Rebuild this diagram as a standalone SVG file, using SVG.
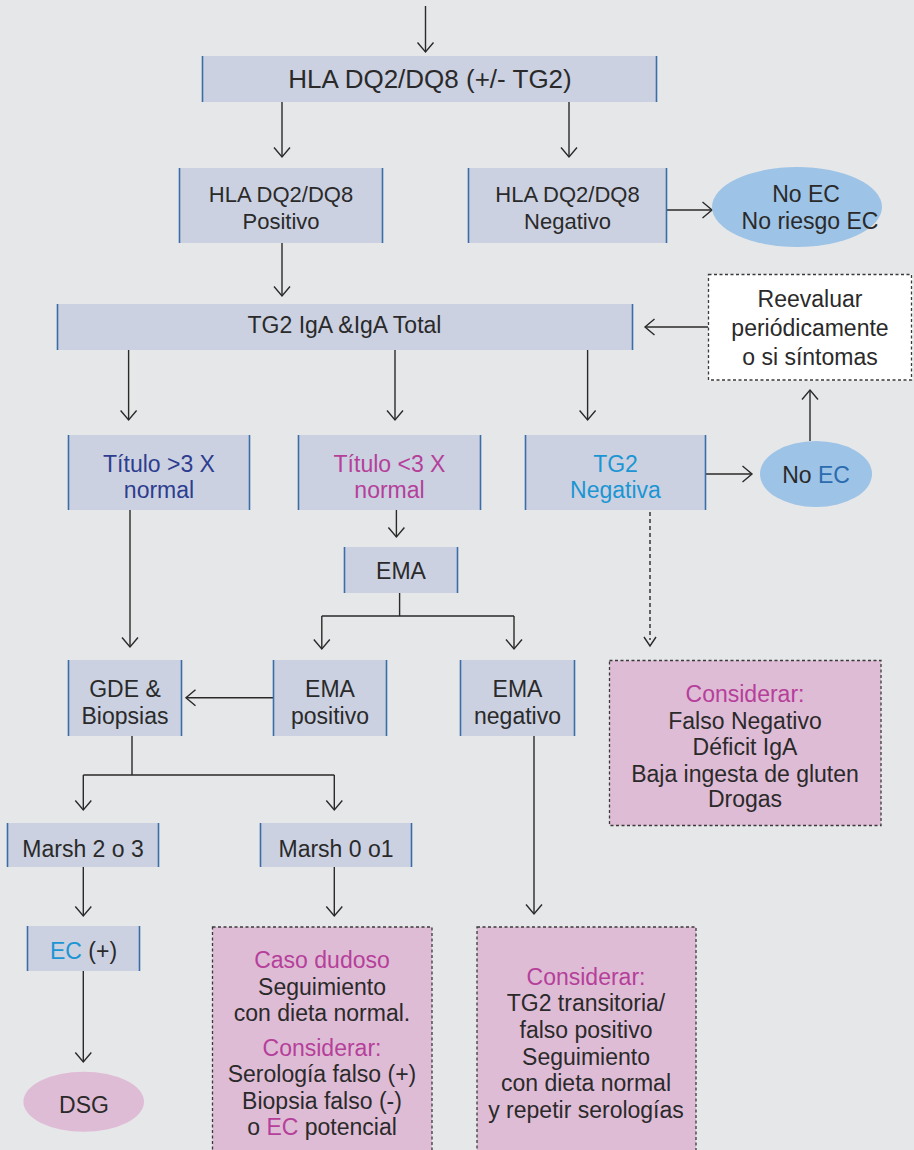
<svg xmlns="http://www.w3.org/2000/svg" width="914" height="1150" viewBox="0 0 914 1150">
<defs>
<style>
.bg{fill:#e6e7e9}
.box{fill:#cbd1e1}
.side{stroke:#3b6ea8;stroke-width:1.6;fill:none}
.pink{fill:#dfbcd6}
.dash{stroke:#3a3a3a;stroke-width:1.3;stroke-dasharray:3 2.5;fill:none}
.ell{fill:#9dc3e6}
.ln{stroke:#2a2a2a;stroke-width:1.4;fill:none}
.dl{stroke:#2a2a2a;stroke-width:1.4;fill:none;stroke-dasharray:4 3}
.arr{marker-end:url(#ah)}
text{font-family:"Liberation Sans",Arial,sans-serif;font-size:23px;fill:#2a2a2a;text-anchor:middle}
.t1{font-size:22px}
.top{font-size:26px}
.navy{fill:#2e3d8f}
.mag{fill:#b5409a}
.lb{fill:#1b95d3}
.sb{fill:#2b6cb0}
</style>
<marker id="ah" markerUnits="userSpaceOnUse" markerWidth="20" markerHeight="20" refX="10" refY="10" orient="auto" viewBox="0 0 20 20">
<path d="M0.5,2 L10,10 L0.5,18" fill="none" stroke="#2a2a2a" stroke-width="1.4"/>
</marker>
</defs>
<rect class="bg" x="0" y="0" width="914" height="1150"/>

<g id="connectors">
<line class="ln arr" x1="425.5" y1="6" x2="425.5" y2="52"/>
<line class="ln arr" x1="282" y1="102" x2="282" y2="157"/>
<line class="ln arr" x1="569" y1="102" x2="569" y2="157"/>
<line class="ln arr" x1="667" y1="210" x2="712" y2="210"/>
<line class="ln arr" x1="282" y1="243" x2="282" y2="296"/>
<line class="ln arr" x1="708" y1="327" x2="645" y2="327"/>
<line class="ln arr" x1="128.6" y1="350" x2="128.6" y2="420"/>
<line class="ln arr" x1="395" y1="350" x2="395" y2="420"/>
<line class="ln arr" x1="587.6" y1="350" x2="587.6" y2="420"/>
<line class="ln arr" x1="706" y1="474" x2="752" y2="474"/>
<line class="ln arr" x1="810" y1="441" x2="810" y2="390"/>
<line class="ln arr" x1="130" y1="510" x2="130" y2="647"/>
<line class="ln arr" x1="396.4" y1="510" x2="396.4" y2="537"/>
<line class="dl" x1="650" y1="512" x2="650" y2="640"/>
<path class="ln" d="M644,637 L650,646 L656,637"/>
<path class="ln" d="M399.6,593 V616 M321.8,616 H514"/>
<line class="ln arr" x1="321.8" y1="616" x2="321.8" y2="649"/>
<line class="ln arr" x1="514" y1="616" x2="514" y2="649"/>
<line class="ln arr" x1="273" y1="697.7" x2="186" y2="697.7"/>
<path class="ln" d="M132,736 V775 M83.3,775 H334.3"/>
<line class="ln arr" x1="83.3" y1="775" x2="83.3" y2="810"/>
<line class="ln arr" x1="334.3" y1="775" x2="334.3" y2="810"/>
<line class="ln arr" x1="534" y1="736" x2="534" y2="914"/>
<line class="ln arr" x1="83.3" y1="867" x2="83.3" y2="916"/>
<line class="ln arr" x1="334.3" y1="867" x2="334.3" y2="916"/>
<line class="ln arr" x1="83.3" y1="971" x2="83.3" y2="1062"/>
</g>

<g id="hla">
<rect class="box" x="202" y="56" width="455" height="46"/>
<path class="side" d="M202.5,56 V102 M656.5,56 V102"/>
<text class="top" x="430" y="88">HLA DQ2/DQ8 (+/- TG2)</text>
</g>

<g id="hla-pos">
<rect class="box" x="179" y="168" width="204" height="75"/>
<path class="side" d="M179.5,168 V243 M382.5,168 V243"/>
<text class="t1" x="281" y="202">HLA DQ2/DQ8</text>
<text class="t1" x="281" y="229">Positivo</text>
</g>

<g id="hla-neg">
<rect class="box" x="468" y="168" width="199" height="75"/>
<path class="side" d="M468.5,168 V243 M666.5,168 V243"/>
<text class="t1" x="567.5" y="202">HLA DQ2/DQ8</text>
<text class="t1" x="567.5" y="229">Negativo</text>
</g>

<g id="no-ec-riesgo">
<ellipse class="ell" cx="797" cy="207" rx="85" ry="40"/>
<text x="806" y="202">No EC</text>
<text x="810" y="229">No riesgo EC</text>
</g>

<g id="tg2-iga">
<rect class="box" x="57" y="304" width="576" height="46"/>
<path class="side" d="M57.5,304 V350 M632.5,304 V350"/>
<text x="344.5" y="333">TG2 IgA &amp;IgA Total</text>
</g>

<g id="reevaluar">
<rect x="708.5" y="274.5" width="204" height="106" fill="#ffffff"/>
<rect class="dash" x="708.5" y="274.5" width="203" height="105.5"/>
<text x="810" y="307">Reevaluar</text>
<text x="810" y="336">periódicamente</text>
<text x="810" y="365">o si síntomas</text>
</g>

<g id="titulo-mayor">
<rect class="box" x="68" y="435" width="182" height="75"/>
<path class="side" d="M68.5,435 V510 M249.5,435 V510"/>
<text class="navy" x="159" y="472">Título &gt;3 X</text>
<text class="navy" x="159" y="497.5">normal</text>
</g>

<g id="titulo-menor">
<rect class="box" x="298" y="435" width="183" height="75"/>
<path class="side" d="M298.5,435 V510 M480.5,435 V510"/>
<text class="mag" x="389.5" y="472">Título &lt;3 X</text>
<text class="mag" x="389.5" y="497.5">normal</text>
</g>

<g id="tg2-negativa">
<rect class="box" x="525" y="435" width="181" height="75"/>
<path class="side" d="M525.5,435 V510 M705.5,435 V510"/>
<text class="lb" x="615.5" y="472">TG2</text>
<text class="lb" x="615.5" y="497.5">Negativa</text>
</g>

<g id="no-ec">
<ellipse class="ell" cx="816" cy="474" rx="56" ry="33"/>
<text x="816" y="483">No <tspan class="sb">EC</tspan></text>
</g>

<g id="ema">
<rect class="box" x="344" y="547" width="114" height="46"/>
<path class="side" d="M344.5,547 V593 M457.5,547 V593"/>
<text x="401" y="579">EMA</text>
</g>

<g id="gde">
<rect class="box" x="68" y="660" width="114" height="76"/>
<path class="side" d="M68.5,660 V736 M181.5,660 V736"/>
<text x="125" y="697">GDE &amp;</text>
<text x="125" y="723.5">Biopsias</text>
</g>

<g id="ema-pos">
<rect class="box" x="273" y="660" width="114" height="76"/>
<path class="side" d="M273.5,660 V736 M386.5,660 V736"/>
<text x="330" y="697">EMA</text>
<text x="330" y="723.5">positivo</text>
</g>

<g id="ema-neg">
<rect class="box" x="460" y="660" width="115" height="76"/>
<path class="side" d="M460.5,660 V736 M574.5,660 V736"/>
<text x="517.5" y="697">EMA</text>
<text x="517.5" y="723.5">negativo</text>
</g>

<g id="considerar-1">
<rect class="pink" x="609.5" y="660.5" width="271.5" height="165"/>
<rect class="dash" x="609.5" y="660.5" width="271.5" height="165"/>
<text class="mag" x="745" y="702">Considerar:</text>
<text x="745" y="728.5">Falso Negativo</text>
<text x="745" y="755">Déficit IgA</text>
<text x="745" y="781.5">Baja ingesta de gluten</text>
<text x="745" y="807">Drogas</text>
</g>

<g id="marsh-23">
<rect class="box" x="7" y="823" width="152" height="44"/>
<path class="side" d="M7.5,823 V867 M158.5,823 V867"/>
<text x="83" y="857">Marsh 2 o 3</text>
</g>

<g id="marsh-01">
<rect class="box" x="260" y="823" width="152" height="44"/>
<path class="side" d="M260.5,823 V867 M411.5,823 V867"/>
<text x="336" y="857">Marsh 0 o1</text>
</g>

<g id="ec-pos">
<rect class="box" x="27" y="926" width="113" height="45"/>
<path class="side" d="M27.5,926 V971 M139.5,926 V971"/>
<text x="83.5" y="958.5"><tspan class="lb">EC</tspan> (+)</text>
</g>

<g id="dsg">
<ellipse class="pink" cx="83.7" cy="1101.7" rx="60.3" ry="30"/>
<text x="84" y="1113">DSG</text>
</g>

<g id="caso-dudoso">
<rect class="pink" x="212.5" y="927" width="219.5" height="230"/>
<rect class="dash" x="212.5" y="927" width="219.5" height="230"/>
<text class="mag" x="322" y="967.5">Caso dudoso</text>
<text x="322" y="995">Seguimiento</text>
<text x="322" y="1021">con dieta normal.</text>
<text class="mag" x="322" y="1056">Considerar:</text>
<text x="322" y="1082">Serología falso (+)</text>
<text x="322" y="1108.5">Biopsia falso (-)</text>
<text x="322" y="1135">o <tspan class="mag">EC</tspan> potencial</text>
</g>

<g id="considerar-2">
<rect class="pink" x="477" y="927" width="219" height="230"/>
<rect class="dash" x="477" y="927" width="219" height="230"/>
<text class="mag" x="586" y="985">Considerar:</text>
<text x="586" y="1011">TG2 transitoria/</text>
<text x="586" y="1037.5">falso positivo</text>
<text x="586" y="1064.5">Seguimiento</text>
<text x="586" y="1091">con dieta normal</text>
<text x="586" y="1117.5">y repetir serologías</text>
</g>
</svg>
